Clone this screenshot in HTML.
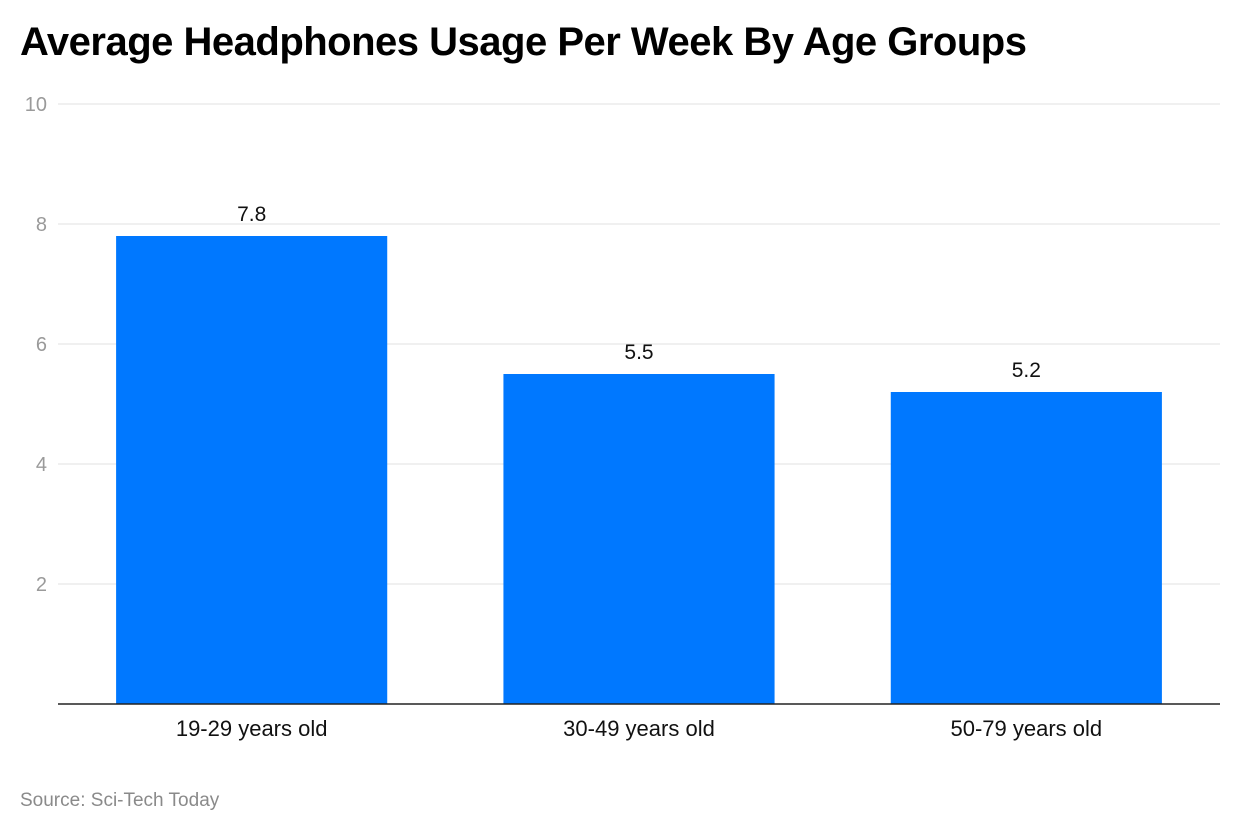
<!DOCTYPE html>
<html><head><meta charset="utf-8"><style>
html,body{margin:0;padding:0;background:#fff;width:1240px;height:834px;overflow:hidden;font-family:"Liberation Sans",Arial,sans-serif}
.title{position:absolute;left:20px;top:20px;font-size:40px;font-weight:bold;color:#000;letter-spacing:-0.5px}
.src{position:absolute;left:20px;top:790px;font-size:19px;color:#8a8a8a}
</style></head><body>
<div class="title">Average Headphones Usage Per Week By Age Groups</div>
<svg id="chart" width="1240" height="834" style="position:absolute;left:0;top:0"></svg>
<div class="src">Source: <span style="color:#8a8a8a">Sci-Tech Today</span></div>
<script>
const categories = ["19-29 years old","30-49 years old","50-79 years old"];
const values = [7.8, 5.5, 5.2];
const valueLabels = ["7.8","5.5","5.2"];
const yTicks = [2,4,6,8,10];

const svg = document.getElementById('chart');
const NS = 'http://www.w3.org/2000/svg';
const x0 = 58, x1 = 1220, yTop = 104, yBot = 704, yMax = 10;
const y = v => yBot - (v / yMax) * (yBot - yTop);
const band = (x1 - x0) / categories.length;
const xc = i => x0 + band * (i + 0.5);
const barW = band * 0.7;
function mk(tag, attrs, text){
  const el = document.createElementNS(NS, tag);
  for (const k in attrs) el.setAttribute(k, attrs[k]);
  if (text !== undefined) el.textContent = text;
  svg.appendChild(el);
  return el;
}
yTicks.forEach(t => {
  const g = mk('line', {x1:x0, x2:x1, y1:y(t), y2:y(t), stroke:'#e0e0e0', 'stroke-width':1});
  
  
  const l = mk('text', {x:47, y:y(t)+7, 'text-anchor':'end', 'font-size':20, fill:'#9a9a9a', 'font-family':'Liberation Sans, sans-serif'}, String(t));
  
  
});
values.forEach((v, i) => {
  const r = mk('rect', {x:xc(i)-barW/2, y:y(v), width:barW, height:yBot-y(v), fill:'#0078ff'});
  
  
  const vl = mk('text', {x:xc(i), y:y(v)-15, 'text-anchor':'middle', 'font-size':21, fill:'#111', 'font-family':'Liberation Sans, sans-serif'}, valueLabels[i]);
  
  
  const cl = mk('text', {x:xc(i), y:736, 'text-anchor':'middle', 'font-size':22, fill:'#111', 'font-family':'Liberation Sans, sans-serif'}, categories[i]);
  
  
});
const ax = mk('line', {x1:x0, x2:x1, y1:yBot, y2:yBot, stroke:'#222', 'stroke-width':1.5});


</script>
</body></html>
